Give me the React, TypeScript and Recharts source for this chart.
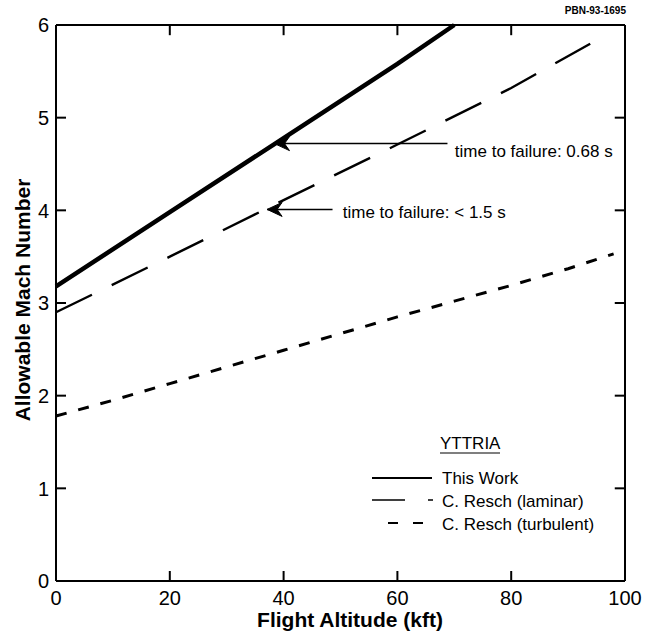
import React from 'react';
import {
  LineChart,
  Line,
  XAxis,
  YAxis,
  ReferenceLine,
  ReferenceDot,
} from 'recharts';

// values (flight altitude in kft, Mach number)
const altitudeTicks = [0, 20, 40, 60, 80, 100];
const machTicks = [0, 1, 2, 3, 4, 5, 6];

const thisWorkAltitude = [0, 20, 40, 60, 70];
const thisWorkMach = [3.18, 3.98, 4.78, 5.58, 6.0];

const laminarAltitude = [0, 20, 40, 60, 80, 96];
const laminarMach = [2.9, 3.5, 4.11, 4.71, 5.32, 5.87];

const turbulentAltitude = [0, 10, 20, 30, 40, 50, 60, 70, 80, 90, 98];
const turbulentMach = [1.78, 1.95, 2.13, 2.31, 2.49, 2.67, 2.85, 3.02, 3.19, 3.37, 3.53];

const seriesNames = ['This Work', 'C. Resch (laminar)', 'C. Resch (turbulent)'];
const legendTitle = 'YTTRIA';
const figureId = 'PBN-93-1695';
const xTitle = 'Flight Altitude (kft)';
const yTitle = 'Allowable Mach Number';

// arrow annotations: tip on the curve, end of the shaft, start of the text
const notes = [
  { text: 'time to failure: 0.68 s', tip: [38.4, 4.72], tail: 68.8, at: [70.1, 4.58] },
  { text: 'time to failure: < 1.5 s', tip: [37.1, 4.01], tail: 48.6, at: [50.4, 3.92] },
];

const toRows = (xs: number[], ys: number[]) => xs.map((x, i) => ({ alt: x, mach: ys[i] }));

const thisWorkData = toRows(thisWorkAltitude, thisWorkMach);
const laminarData = toRows(laminarAltitude, laminarMach);
const turbulentData = toRows(turbulentAltitude, turbulentMach);

const FONT = '"Liberation Sans", Arial, Helvetica, sans-serif';
const INK = 'black';

const W = 645;
const H = 637;
const TICK_LEN = 10;

// bottom axis: label below, tick mark pointing up into the plot
function BottomTick({ x, y, payload }: any) {
  return (
    <g>
      <line x1={x} x2={x} y1={y - 10} y2={y - 10 - TICK_LEN} stroke={INK} strokeWidth={2} fill="none" />
      <text x={x} y={y} dy="0.72em" textAnchor="middle" fontSize={20} fontFamily={FONT} fill={INK}>
        {payload.value}
      </text>
    </g>
  );
}

// left axis: label outside, tick mark pointing right into the plot
function LeftTick({ x, y, payload }: any) {
  return (
    <g>
      <line x1={x + 7} x2={x + 7 + TICK_LEN} y1={y} y2={y} stroke={INK} strokeWidth={2} fill="none" />
      <text x={x} y={y} dy="0.36em" textAnchor="end" fontSize={20} fontFamily={FONT} fill={INK}>
        {payload.value}
      </text>
    </g>
  );
}

// barbed arrowhead pointing left, tip at (cx, cy)
function ArrowHead({ cx, cy }: any) {
  return (
    <path
      d={`M${cx},${cy} L${cx + 15},${cy - 7} L${cx + 10},${cy} L${cx + 15},${cy + 7} Z`}
      fill={INK}
      stroke={INK}
      strokeWidth={1}
    />
  );
}

const noteLabel = (text: string) => ({ cx, cy }: any) => (
  <text x={cx} y={cy} fontSize={17} fontFamily={FONT} fill={INK}>
    {text}
  </text>
);

export default function App() {
  return (
    <div style={{ position: 'absolute', left: 0, top: 0, width: W, height: H, background: '#fff' }}>
      <LineChart width={W} height={H} margin={{ top: 25, right: 20, left: 0, bottom: 0 }}>
        {/* frame: top and right borders with inward ticks */}
        <XAxis
          xAxisId="top"
          orientation="top"
          type="number"
          domain={[0, 100]}
          ticks={altitudeTicks}
          height={1}
          mirror
          tick={false}
          tickSize={TICK_LEN}
          tickLine={{ stroke: INK, strokeWidth: 2 }}
          axisLine={{ stroke: INK, strokeWidth: 2 }}
        />
        <YAxis
          yAxisId="right"
          orientation="right"
          type="number"
          domain={[0, 6]}
          ticks={machTicks}
          width={1}
          mirror
          tick={false}
          tickSize={TICK_LEN}
          tickLine={{ stroke: INK, strokeWidth: 2 }}
          axisLine={{ stroke: INK, strokeWidth: 2 }}
        />
        <XAxis
          dataKey="alt"
          type="number"
          domain={[0, 100]}
          ticks={altitudeTicks}
          height={56}
          tickSize={0}
          tickMargin={10}
          tickLine={false}
          axisLine={{ stroke: INK, strokeWidth: 2 }}
          tick={<BottomTick />}
        />
        <YAxis
          type="number"
          domain={[0, 6]}
          ticks={machTicks}
          width={56}
          tickSize={0}
          tickMargin={7}
          tickLine={false}
          axisLine={{ stroke: INK, strokeWidth: 2 }}
          tick={<LeftTick />}
        />

        <Line
          data={turbulentData}
          dataKey="mach"
          name={seriesNames[2]}
          type="linear"
          stroke={INK}
          strokeWidth={3}
          strokeDasharray="11 12"
          dot={false}
          isAnimationActive={false}
        />
        <Line
          data={laminarData}
          dataKey="mach"
          name={seriesNames[1]}
          type="linear"
          stroke={INK}
          strokeWidth={2.4}
          strokeDasharray="40 22"
          dot={false}
          isAnimationActive={false}
        />
        <Line
          data={thisWorkData}
          dataKey="mach"
          name={seriesNames[0]}
          type="linear"
          stroke={INK}
          strokeWidth={4.5}
          dot={false}
          isAnimationActive={false}
        />

        {/* inward ticks on top/right borders, drawn through the axis scales */}
        {altitudeTicks.slice(1, -1).map((t) => (
          <ReferenceLine key={`tt${t}`} segment={[{ x: t, y: 5.99 }, { x: t, y: 5.89 }]} stroke={INK} strokeWidth={2} />
        ))}
        {machTicks.slice(1, -1).map((t) => (
          <ReferenceLine key={`rt${t}`} segment={[{ x: 99.9, y: t }, { x: 98.2, y: t }]} stroke={INK} strokeWidth={2} />
        ))}

        {notes.map((n, i) => (
          <ReferenceLine
            key={`shaft-${i}`}
            segment={[
              { x: n.tip[0], y: n.tip[1] },
              { x: n.tail, y: n.tip[1] },
            ]}
            stroke={INK}
            strokeWidth={1.5}
          />
        ))}
        {notes.map((n, i) => (
          <ReferenceDot key={`head-${i}`} x={n.tip[0]} y={n.tip[1]} r={0} shape={<ArrowHead />} />
        ))}
        {notes.map((n, i) => (
          <ReferenceDot key={`text-${i}`} x={n.at[0]} y={n.at[1]} r={0} shape={noteLabel(n.text)} />
        ))}

        {/* axis titles */}
        <text x={350} y={627} textAnchor="middle" fontSize={21} fontWeight="bold" fontFamily={FONT} fill={INK}>
          {xTitle}
        </text>
        <text
          x={30}
          y={300}
          transform="rotate(-90, 30, 300)"
          textAnchor="middle"
          fontSize={21}
          fontWeight="bold"
          fontFamily={FONT}
          fill={INK}
        >
          {yTitle}
        </text>

        {/* figure id, top right */}
        <text x={626} y={14} textAnchor="end" fontSize={10} fontWeight="bold" fontFamily={FONT} fill={INK}>
          {figureId}
        </text>

        {/* legend block */}
        <g fontFamily={FONT} fontSize={17} fill={INK}>
          <text x={440} y={449}>{legendTitle}</text>
          <line x1={440} x2={500} y1={453} y2={453} stroke={INK} strokeWidth={1.2} />

          <line x1={372} x2={432} y1={478} y2={478} stroke={INK} strokeWidth={2} />
          <text x={442} y={484}>{seriesNames[0]}</text>

          <line x1={372} x2={433} y1={500} y2={500} stroke={INK} strokeWidth={1.6} strokeDasharray="33 23" />
          <text x={442} y={507}>{seriesNames[1]}</text>

          <line x1={388} x2={423} y1={523} y2={523} stroke={INK} strokeWidth={2.2} strokeDasharray="10 15" />
          <text x={442} y={530}>{seriesNames[2]}</text>
        </g>
      </LineChart>
    </div>
  );
}
